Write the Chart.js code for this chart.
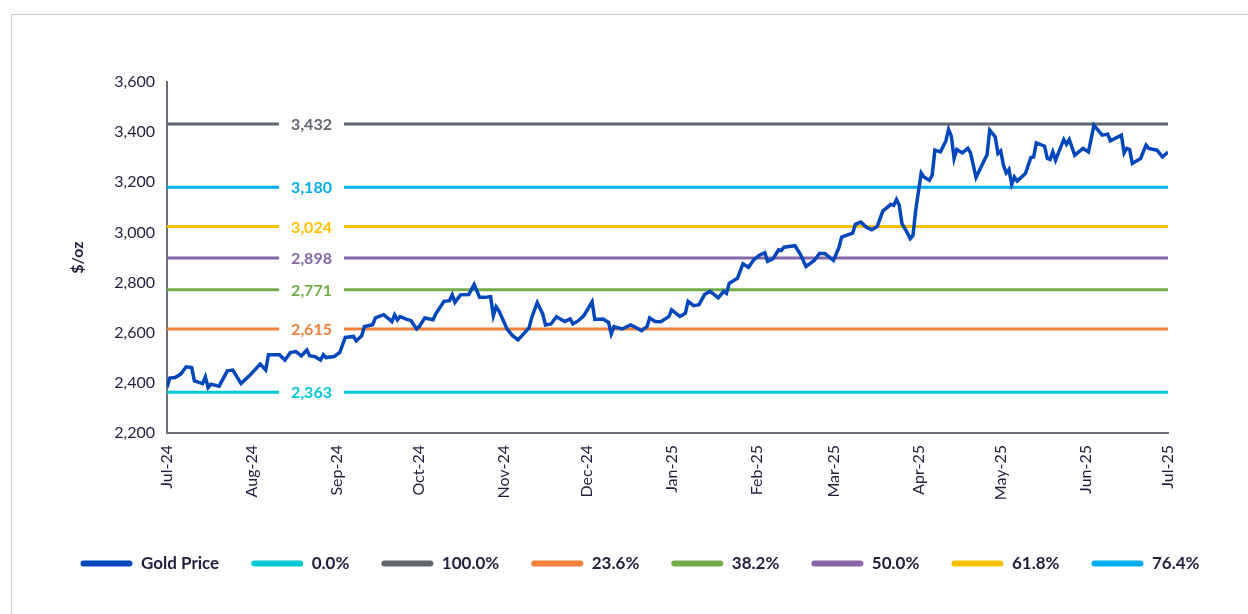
<!DOCTYPE html>
<html>
<head>
<meta charset="utf-8">
<script src="https://cdn.jsdelivr.net/npm/chart.js@4.4.0/dist/chart.umd.min.js"></script>
<style>
  html, body { margin: 0; padding: 0; background: #fff; overflow: hidden; }
  .frame { position: absolute; left: 11px; top: 14px; width: 1400px; height: 700px; border: 1px solid #c9c9d3; }
  .wrap { position: absolute; left: 12px; top: 15px; width: 1256px; height: 600px; }
</style>
</head>
<body>
<div class="frame"></div>
<div class="wrap"><canvas id="goldChart"></canvas></div>
<script>
// days counted from 1 Jul 2024
const priceDays = [
  0, 1, 3, 5, 7, 9, 10, 13, 14, 15, 16, 19, 22, 24, 27, 30, 34, 36, 37, 41,
  43, 45, 47, 49, 51, 52, 54, 56, 57, 58, 61, 63, 65, 68, 69, 71, 72, 75, 76, 79,
  82, 83, 84, 85, 87, 89, 91, 92, 94, 97, 98, 101, 103, 104, 105, 107, 110, 112, 114, 116,
  118, 119, 120, 121, 124, 126, 128, 132, 133, 135, 137, 138, 140, 142, 145, 147, 148, 150, 152, 155,
  156, 159, 161, 162, 163, 166, 169, 171, 173, 175, 176, 178, 180, 183, 184, 187, 189, 190, 192, 194,
  196, 198, 199, 201, 203, 204, 205, 208, 210, 212, 214, 216, 218, 219, 221, 223, 224, 225, 229, 231,
  233, 236, 238, 240, 243, 245, 246, 250, 251, 253, 255, 257, 259, 261, 264, 265, 266, 267, 268, 270,
  271, 272, 273, 275, 276, 278, 279, 280, 282, 284, 285, 286, 287, 288, 290, 292, 293, 295, 298, 299,
  300, 302, 303, 304, 305, 306, 307, 308, 309, 310, 313, 315, 316, 317, 320, 321, 322, 323, 324, 327,
  328, 329, 331, 334, 336, 338, 341, 343, 344, 348, 349, 350, 351, 352, 355, 357, 358, 361, 363, 365
];
const goldPrices = [
  2381, 2419, 2421, 2435, 2464, 2461, 2408, 2397, 2424, 2381, 2395, 2387, 2448, 2451, 2397, 2428, 2475, 2451, 2512, 2512,
  2491, 2521, 2525, 2508, 2531, 2508, 2504, 2491, 2512, 2501, 2505, 2521, 2581, 2585, 2568, 2588, 2625, 2632, 2659, 2672,
  2644, 2671, 2651, 2664, 2655, 2648, 2615, 2624, 2659, 2652, 2675, 2725, 2728, 2751, 2721, 2751, 2752, 2792, 2741, 2741,
  2744, 2668, 2704, 2688, 2615, 2588, 2571, 2619, 2661, 2720, 2675, 2631, 2635, 2664, 2645, 2655, 2635, 2648, 2668, 2723,
  2653, 2655, 2641, 2595, 2624, 2615, 2631, 2621, 2608, 2624, 2659, 2645, 2644, 2664, 2691, 2665, 2677, 2725, 2708, 2712,
  2752, 2765, 2757, 2739, 2765, 2757, 2797, 2817, 2875, 2861, 2891, 2909, 2919, 2885, 2895, 2931, 2928, 2941, 2947, 2912,
  2864, 2888, 2917, 2915, 2888, 2939, 2981, 2997, 3032, 3041, 3021, 3011, 3024, 3085, 3112, 3108, 3131, 3108, 3035, 2997,
  2975, 2988, 3088, 3237, 3221, 3208, 3228, 3328, 3321, 3365, 3411, 3384, 3295, 3331, 3317, 3335, 3317, 3219, 3288, 3308,
  3408, 3381, 3315, 3325, 3268, 3237, 3251, 3192, 3221, 3205, 3235, 3299, 3301, 3357, 3344, 3295, 3291, 3321, 3288, 3371,
  3352, 3371, 3308, 3335, 3321, 3428, 3388, 3392, 3365, 3388, 3317, 3335, 3331, 3275, 3295, 3348, 3335, 3328, 3301, 3321
];

const fibNames = ['0.0%', '100.0%', '23.6%', '38.2%', '50.0%', '61.8%', '76.4%'];
const fibLevels = [2363, 3432, 2615, 2771, 2898, 3024, 3180];
const fibColors = ['#00c8d4', '#5f666e', '#f0803a', '#72ad4a', '#8566a6', '#ffc000', '#00aef0'];

const monthDays = [0, 31, 62, 92, 123, 153, 184, 215, 243, 274, 304, 335, 365];
const monthLabels = ['Jul-24', 'Aug-24', 'Sep-24', 'Oct-24', 'Nov-24', 'Dec-24',
  'Jan-25', 'Feb-25', 'Mar-25', 'Apr-25', 'May-25', 'Jun-25', 'Jul-25'];

const tagDay = 52.7;
const inkColor = '#1f1f3d';
const axisColor = '#6b7178';

// value tags sitting in a gap of each retracement line
const fibTags = {
  id: 'fibTags',
  afterDatasetsDraw(chart) {
    const { ctx, scales: { x, y } } = chart;
    const cx = x.getPixelForValue(tagDay);
    ctx.save();
    ctx.font = 'bold 16px Lato';
    ctx.textAlign = 'center';
    ctx.textBaseline = 'middle';
    fibLevels.forEach((lvl, i) => {
      const py = y.getPixelForValue(lvl);
      const txt = lvl.toLocaleString('en-US');
      const w = ctx.measureText(txt).width + 24;
      ctx.fillStyle = '#fff';
      ctx.fillRect(cx - w / 2, py - 4, w, 8);
      ctx.fillStyle = fibColors[i];
      ctx.fillText(txt, cx, py + 1);
    });
    ctx.restore();
  }
};

const datasets = [{
  label: 'Gold Price',
  data: priceDays.map((d, i) => ({ x: d, y: goldPrices[i] })),
  borderColor: '#0047bb',
  backgroundColor: '#0047bb',
  borderWidth: 3.5,
  pointRadius: 0,
  tension: 0,
  order: 0
}];
fibLevels.forEach((lvl, i) => {
  datasets.push({
    label: fibNames[i],
    data: [{ x: 0, y: lvl }, { x: 365, y: lvl }],
    borderColor: fibColors[i],
    backgroundColor: fibColors[i],
    borderWidth: 3,
    pointRadius: 0,
    order: 1
  });
});

new Chart(document.getElementById('goldChart'), {
  type: 'line',
  data: { datasets },
  plugins: [fibTags],
  options: {
    responsive: true,
    maintainAspectRatio: false,
    animation: false,
    layout: { padding: { top: 67, bottom: 33, left: 0, right: 0 } },
    plugins: {
      tooltip: { enabled: false },
      legend: {
        position: 'bottom',
        labels: {
          boxWidth: 52,
          boxHeight: 6,
          useBorderRadius: true,
          borderRadius: 3,
          padding: 32,
          color: inkColor,
          font: { family: 'Lato', size: 17, weight: 'bold' },
          generateLabels: (chart) => Chart.defaults.plugins.legend.labels.generateLabels(chart)
            .map(l => ({ ...l, fillStyle: l.strokeStyle, lineWidth: 0 }))
        }
      }
    },
    scales: {
      x: {
        type: 'linear',
        min: 0,
        max: 365,
        grid: { display: false, drawTicks: false },
        border: { display: true, color: axisColor, width: 2 },
        afterBuildTicks: (s) => { s.ticks = monthDays.map(v => ({ value: v })); },
        afterFit: (s) => { s.height = 90; },
        ticks: {
          autoSkip: false,
          minRotation: 90,
          maxRotation: 90,
          padding: 12,
          color: inkColor,
          font: { family: 'Lato', size: 16 },
          callback: (v) => monthLabels[monthDays.indexOf(v)]
        }
      },
      y: {
        min: 2200,
        max: 3600,
        grid: { display: false, drawTicks: false },
        border: { display: true, color: axisColor, width: 2 },
        afterFit: (s) => { s.width = 155; },
        ticks: {
          stepSize: 200,
          padding: 12,
          color: inkColor,
          font: { family: 'Lato', size: 16 },
          callback: (v) => v.toLocaleString('en-US')
        },
        title: {
          display: true,
          text: '$/oz',
          color: inkColor,
          font: { family: 'Lato', size: 16, weight: 'bold' },
          padding: { top: 56, bottom: 0 }
        }
      },
      spare: {
        position: 'right',
        grid: { display: false, drawTicks: false },
        border: { display: false },
        ticks: { display: false },
        afterFit: (s) => { s.width = 100; }
      }
    }
  }
});
</script>
</body>
</html>
